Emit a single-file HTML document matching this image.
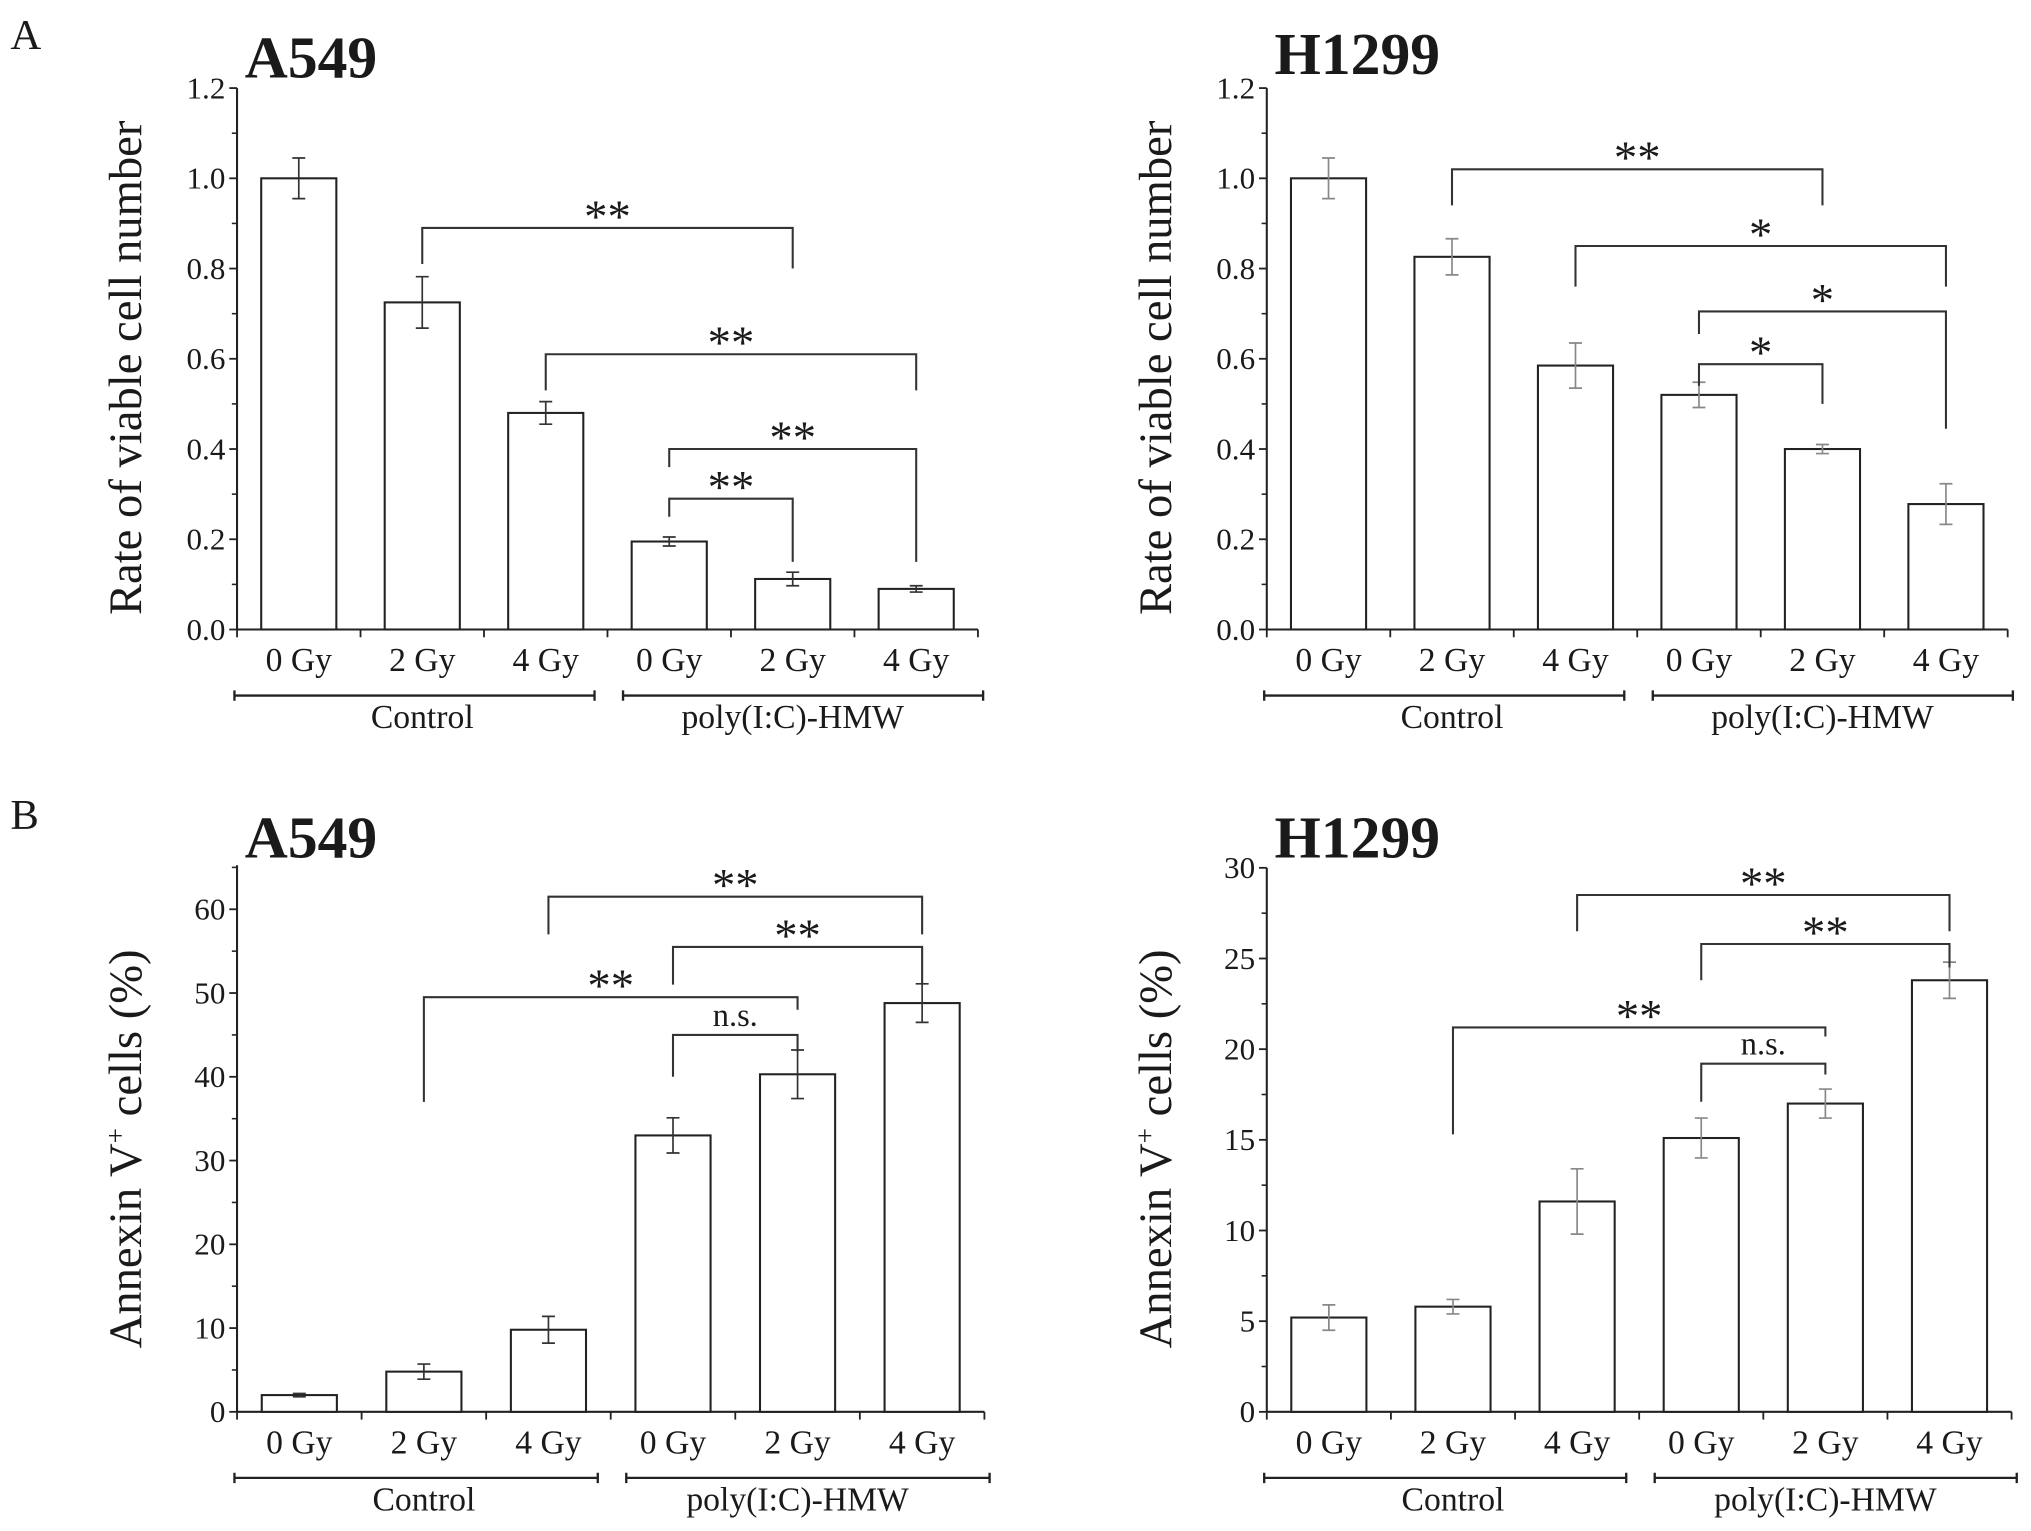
<!DOCTYPE html>
<html><head><meta charset="utf-8"><style>
html,body{margin:0;padding:0;background:#fff;}
svg{display:block;}
text{font-family:"Liberation Serif",serif;fill:#1a1a1a;}
</style></head><body>
<svg id="fig" width="2031" height="1531" viewBox="0 0 1568 1182" preserveAspectRatio="none" xmlns="http://www.w3.org/2000/svg">
<text x="8" y="38" font-size="33">A</text>
<text x="8" y="640" font-size="33">B</text>
</svg>
<script>
// ---- data ----
const categories = ["0 Gy","2 Gy","4 Gy","0 Gy","2 Gy","4 Gy"];
const groupLabels = ["Control","poly(I:C)-HMW"];
// Panel A: viability
const a549ViabVals = [1.0,0.725,0.48,0.195,0.112,0.09];
const a549ViabErr  = [0.045,0.057,0.025,0.01,0.015,0.007];
const h1299ViabVals = [1.0,0.826,0.585,0.52,0.4,0.278];
const h1299ViabErr  = [0.045,0.04,0.05,0.028,0.01,0.045];
const viabTicks = ["0.0","0.2","0.4","0.6","0.8","1.0","1.2"];
// Panel B: annexin
const a549AnnVals = [2.0,4.8,9.8,33.0,40.3,48.8];
const a549AnnErr  = [0.2,0.9,1.6,2.1,2.9,2.3];
const h1299AnnVals = [5.2,5.8,11.6,15.1,17.0,23.8];
const h1299AnnErr  = [0.7,0.4,1.8,1.1,0.8,1.0];
const a549AnnTicks = ["0","10","20","30","40","50","60"];
const h1299AnnTicks = ["0","5","10","15","20","25","30"];
// significance brackets: [fromIdx, toIdx, barLevel, leftLegEnd, rightLegEnd, label]
const a549ViabSig = [[1,4,0.89,0.81,0.80,"**"],[2,5,0.61,0.53,0.53,"**"],[3,5,0.40,0.36,0.15,"**"],[3,4,0.29,0.25,0.15,"**"]];
const h1299ViabSig = [[1,4,1.02,0.94,0.94,"**"],[2,5,0.85,0.76,0.76,"*"],[3,5,0.705,0.655,0.445,"*"],[3,4,0.588,0.54,0.50,"*"]];
const a549AnnSig = [[2,5,61.5,57,57,"**"],[3,5,55.5,51,51,"**"],[1,4,49.5,37,48,"**"],[3,4,45,40,43,"n.s."]];
const h1299AnnSig = [[2,5,28.5,26.5,26.5,"**"],[3,5,25.8,23.8,24.5,"**"],[1,4,21.2,15.3,20.7,"**"],[3,4,19.2,17.1,18.6,"n.s."]];

const NS="http://www.w3.org/2000/svg";
const svg=document.getElementById('fig');
function mk(tag,attrs,parent){const e=document.createElementNS(NS,tag);for(const k in attrs)e.setAttribute(k,attrs[k]);(parent||svg).appendChild(e);return e;}

function panel(o){
  const g=mk('g',{});
  
  
  const x0=o.x0, x1=o.x1, y0=o.y0, yTop=o.yTop;
  const n=o.ticks.length-1;
  const ys=v=>y0-(v/o.ymax)*(y0-o.ymaxPx);
  const step=(x1-x0)/6;
  const xc=i=>x0+step*(i+0.5);
  const ax=mk('line',{x1:x0,y1:y0,x2:x0,y2:yTop,stroke:'#222','stroke-width':1.6},g);
  
  
  const xa=mk('line',{x1:x0,y1:y0,x2:x1,y2:y0,stroke:'#222','stroke-width':1.6},g);
  
  
  for(let i=0;i<=n;i++){
    const v=o.ymax*i/n, y=ys(v);
    mk('line',{x1:x0-6,y1:y,x2:x0,y2:y,stroke:'#222','stroke-width':1.4},g);
    const t=mk('text',{x:x0-9,y:y+8,'font-size':24,'text-anchor':'end'},g);
    t.textContent=o.ticks[i];
    
    
    if(i<n){const ym=ys(o.ymax*(i+0.5)/n);mk('line',{x1:x0-4,y1:ym,x2:x0,y2:ym,stroke:'#222','stroke-width':1.2},g);}
  }
  if(o.extraMinor){const ym=ys(o.ymax*(n+0.5)/n); if(ym>=yTop) mk('line',{x1:x0-4,y1:ym,x2:x0,y2:ym,stroke:'#222','stroke-width':1.2},g);}
  for(let i=0;i<=6;i++){const x=x0+step*i;mk('line',{x1:x,y1:y0,x2:x,y2:y0+6,stroke:'#222','stroke-width':1.4},g);}
  const bw=58;
  o.vals.forEach((v,i)=>{
    const r=mk('rect',{x:xc(i)-bw/2,y:ys(v),width:bw,height:y0-ys(v),fill:'#fff',stroke:'#222','stroke-width':1.6},g);
    
    
    const e=o.err[i], yt=ys(v+e), yb=ys(v-e);
    const ec=o.errColor||'#333';
    const eb=mk('path',{d:`M${xc(i)},${yt}V${yb}M${xc(i)-5},${yt}H${xc(i)+5}M${xc(i)-5},${yb}H${xc(i)+5}`,stroke:ec,'stroke-width':1.3,fill:'none'},g);
    
    
    const t=mk('text',{x:xc(i),y:y0+32,'font-size':26,'text-anchor':'middle'},g);
    t.textContent=categories[i];
    
    
  });
  const gy=y0+51;
  [[x0-2,x0+step*3-10],[x0+step*3+12,x1+4]].forEach((p,k)=>{
    const l=mk('path',{d:`M${p[0]},${gy}H${p[1]}M${p[0]},${gy-4}V${gy+4}M${p[1]},${gy-4}V${gy+4}`,stroke:'#222','stroke-width':1.8,fill:'none'},g);
    
    
    const t=mk('text',{x:(k==0?xc(1):xc(4)),y:gy+25,'font-size':26,'text-anchor':'middle'},g);
    t.textContent=groupLabels[k];
    
    
  });
  o.sig.forEach(s=>{
    const xa=xc(s[0]), xb=xc(s[1]), yb=ys(s[2]);
    const p=mk('path',{d:`M${xa},${ys(s[3])}V${yb}H${xb}V${ys(s[4])}`,stroke:'#333','stroke-width':1.6,fill:'none'},g);
    
    
    const ns=s[5]==='n.s.';
    const t=mk('text',{x:(xa+xb)/2,y:yb-(ns?7:-3),'font-size':ns?25:36,'text-anchor':'middle'},g);
    t.textContent=s[5];
    
    
  });
  const tt=mk('text',{x:x0+6,y:o.titleY,'font-size':46,'font-weight':'bold'},g);
  tt.textContent=o.title;
  
  
  const yt=mk('text',{x:0,y:0,'font-size':36,'text-anchor':'middle',transform:`translate(${x0-74},${o.yTitleY}) rotate(-90)`},g);
  if(o.sup){yt.textContent='Annexin V';const sp=mk('tspan',{dy:-13,'font-size':21},yt);sp.textContent='+';const r=mk('tspan',{dy:13},yt);r.textContent=' cells (%)';}
  else yt.textContent=o.ytitle;
  
  
}

panel({name:'chart-a549-viability',x0:183,x1:755,y0:486,yTop:68,ymax:1.2,ymaxPx:68,ticks:viabTicks,vals:a549ViabVals,err:a549ViabErr,sig:a549ViabSig,title:'A549',titleY:60,ytitle:'Rate of viable cell number',yTitleY:284});
panel({name:'chart-h1299-viability',x0:978,x1:1550,y0:486,yTop:68,ymax:1.2,ymaxPx:68,ticks:viabTicks,vals:h1299ViabVals,err:h1299ViabErr,sig:h1299ViabSig,title:'H1299',titleY:57,ytitle:'Rate of viable cell number',yTitleY:284,errColor:'#888'});
panel({name:'chart-a549-annexin',x0:183,x1:760,y0:1090,yTop:668,ymax:60,ymaxPx:702,ticks:a549AnnTicks,vals:a549AnnVals,err:a549AnnErr,sig:a549AnnSig,title:'A549',titleY:662,sup:true,yTitleY:887,extraMinor:true});
panel({name:'chart-h1299-annexin',x0:978,x1:1553,y0:1090,yTop:670,ymax:30,ymaxPx:670,ticks:h1299AnnTicks,vals:h1299AnnVals,err:h1299AnnErr,sig:h1299AnnSig,title:'H1299',titleY:662,sup:true,yTitleY:887,errColor:'#888'});
</script>
</body></html>
